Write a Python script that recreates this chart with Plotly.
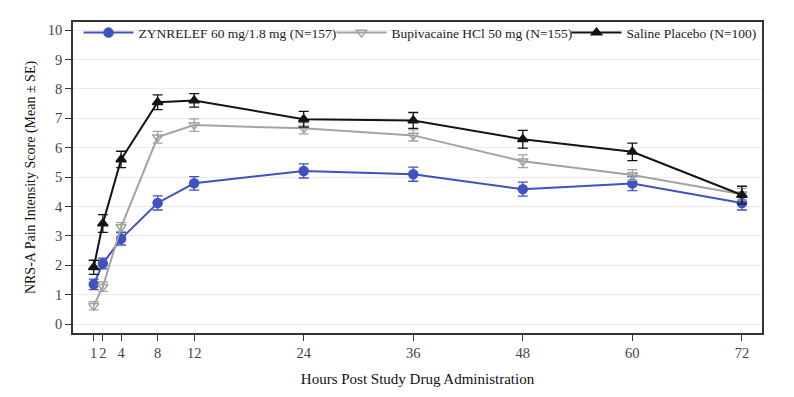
import plotly.graph_objects as go

hours = [1, 2, 4, 8, 12, 24, 36, 48, 60, 72]
tick_vals = [1, 2, 4, 8, 12, 24, 36, 48, 60, 72]

zyn_mean = [1.35, 2.06, 2.90, 4.12, 4.79, 5.21, 5.10, 4.59, 4.78, 4.12]
zyn_se = [0.18, 0.18, 0.21, 0.24, 0.23, 0.24, 0.24, 0.24, 0.24, 0.24]

bup_mean = [0.62, 1.27, 3.30, 6.36, 6.77, 6.66, 6.42, 5.54, 5.07, 4.42]
bup_se = [0.14, 0.16, 0.15, 0.20, 0.21, 0.19, 0.19, 0.22, 0.18, 0.20]

sal_mean = [1.93, 3.42, 5.60, 7.55, 7.61, 6.97, 6.93, 6.29, 5.86, 4.39]
sal_se = [0.24, 0.30, 0.28, 0.25, 0.23, 0.27, 0.27, 0.30, 0.30, 0.30]

names = ["ZYNRELEF 60 mg/1.8 mg (N=157)",
         "Bupivacaine HCl 50 mg (N=155)",
         "Saline Placebo (N=100)"]

FONT = "Liberation Serif, Times New Roman, serif"

fig = go.Figure()
series = [
    (zyn_mean, zyn_se, names[0], "#4051C0", "circle", 9, 188),
    (bup_mean, bup_se, names[1], "#A3A3A3", "triangle-down-open", 9, 170),
    (sal_mean, sal_se, names[2], "#141414", "triangle-up", 9, 135),
]
for m, se, nm, col, sym, sz, lw in series:
    fig.add_trace(go.Scatter(
        x=hours, y=m, name=nm, mode="lines+markers",
        line=dict(color=col, width=2),
        marker=dict(symbol=sym, size=sz, color=col,
                    line=dict(color=col, width=1.5)),
        error_y=dict(type="data", array=se, visible=True,
                     color=col, thickness=1.3, width=5),
        legendwidth=lw,
    ))

fig.update_layout(
    width=794, height=397,
    margin=dict(l=73, r=32, t=22, b=64, autoexpand=False),
    paper_bgcolor="white", plot_bgcolor="white",
    font=dict(family=FONT, size=15, color="#222"),
    showlegend=True,
    legend=dict(orientation="h", x=0.008, y=1.015, xanchor="left", yanchor="top",
                bgcolor="rgba(0,0,0,0)", font=dict(family=FONT, size=13.5, color="#222"),
                itemwidth=50, tracegroupgap=0, traceorder="normal"),
    xaxis=dict(
        range=[-1.27, 74.2], tickmode="array", tickvals=tick_vals,
        ticktext=[str(t) for t in tick_vals], tickangle=0,
        showgrid=False, zeroline=False,
        showline=True, linecolor="#333", linewidth=1.5, mirror=True,
        ticks="outside", ticklen=6, tickcolor="#333",
        tickfont=dict(family=FONT, size=14.5, color="#444"),
        title=dict(text="Hours Post Study Drug Administration",
                   font=dict(family=FONT, size=15, color="#111"), standoff=13),
    ),
    yaxis=dict(
        range=[-0.306, 10.28], tickmode="array", tickvals=list(range(0, 11)),
        showgrid=True, gridcolor="#ebebeb", gridwidth=1, zeroline=False,
        showline=True, linecolor="#333", linewidth=1.5, mirror=True,
        ticks="outside", ticklen=6, tickcolor="#333",
        tickfont=dict(family=FONT, size=14.5, color="#444"),
        title=dict(text="NRS-A Pain Intensity Score (Mean ± SE)",
                   font=dict(family=FONT, size=14, color="#111"), standoff=9),
    ),
)

fig.write_html("out.html", config={"displayModeBar": False},
               post_script="document.body.style.margin='0';")
